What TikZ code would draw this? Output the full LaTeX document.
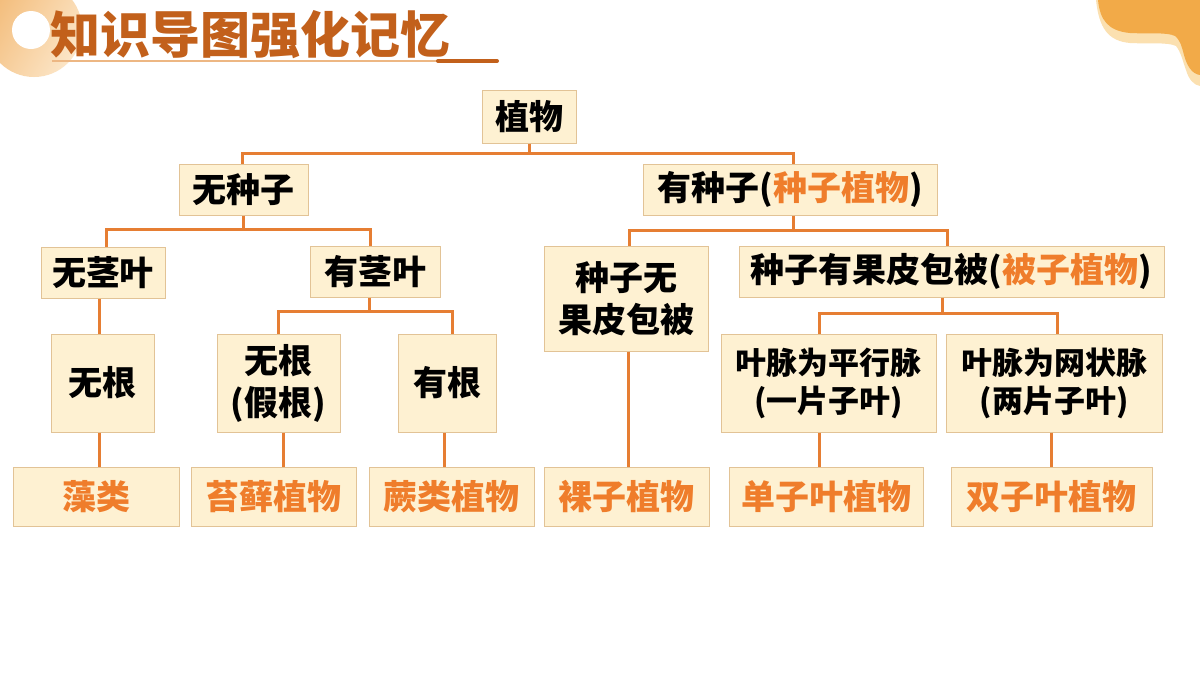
\documentclass[tikz,border=0pt]{standalone}
\usepackage{fontspec}
\setmainfont{Noto Sans CJK SC}
\definecolor{boxfill}{HTML}{FEF1D2}
\definecolor{boxline}{HTML}{E2C396}
\definecolor{conn}{HTML}{E67E33}
\definecolor{orn}{HTML}{EF7D2B}
\definecolor{titlec}{HTML}{C2601B}
\definecolor{titleln}{HTML}{EDB783}
\definecolor{wave}{HTML}{F2AA48}
\definecolor{wavelt}{HTML}{FBE0B0}
\definecolor{ringd}{HTML}{F3BC7A}
\definecolor{ringl}{HTML}{FCE6C8}
\begin{document}
\begin{tikzpicture}[x=1pt,y=-1pt,
  box/.style={draw=boxline, fill=boxfill, line width=1pt, inner sep=0pt, align=center, text=black,
    font=\bfseries\fontsize{34}{42}\selectfont},
  smallbox/.style={box, font=\bfseries\fontsize{31}{38}\selectfont},
  leaf/.style={box, text=orn},
  link/.style={draw=conn, line width=3pt},
  ]
\useasboundingbox (0,0) rectangle (1200,675);
\clip (0,0) rectangle (1200,675);
\fill[white] (0,0) rectangle (1200,675);

% decorations
\shade[left color=ringd, right color=ringl, shading angle=60] (34,29) circle (48);
\fill[white] (31,30) circle (19);
\fill[wavelt] (1096,0) .. controls (1099,28) and (1108,41) .. (1130,43)
  .. controls (1150,44) and (1168,42) .. (1176,46)
  .. controls (1181,52) and (1183,62) .. (1186,70)
  .. controls (1189,80) and (1194,85) .. (1200,86) -- (1200,0) -- cycle;
\fill[wave] (1098,0) .. controls (1100,20) and (1108,31) .. (1130,33)
  .. controls (1150,34) and (1167,32) .. (1175,36)
  .. controls (1181,41) and (1182,48) .. (1184,55)
  .. controls (1187,66) and (1192,74) .. (1200,75) -- (1200,0) -- cycle;

% title
\node[anchor=west, inner sep=0pt, text=titlec, font=\bfseries\fontsize{50}{52}\selectfont] (title) at (50,35) {知识导图强化记忆};
\coordinate (ul1) at (52,61);
\coordinate (ul2) at (438,61);
\coordinate (ul3) at (497,61);
\draw[titleln, line width=1.5pt] (ul1) -- (ul2);
\draw[titlec, line width=4pt, line cap=round] (ul2) -- (ul3);

% level 0-1
\node[box, minimum width=94, minimum height=53] (zw) at (529,116.5) {植物};
\node[box, minimum width=129, minimum height=51] (wzz) at (243.5,189.5) {无种子};
\node[box, minimum width=294, minimum height=51] (yzz) at (790,189.5) {有种子(\textcolor{orn}{种子植物})};
% level 2
\node[box, minimum width=124, minimum height=51] (wjy) at (103,272.5) {无茎叶};
\node[box, minimum width=130, minimum height=51] (yjy) at (375,271.5) {有茎叶};
\node[box, minimum width=164, minimum height=105] (zzw) at (626,298.5) {种子无\\果皮包被};
\node[box, minimum width=425, minimum height=51] (zzy) at (951.5,271.5) {种子有果皮包被(\textcolor{orn}{被子植物})};
% level 3
\node[box, minimum width=103, minimum height=98] (wg1) at (102.5,383) {无根};
\node[box, minimum width=123, minimum height=98] (wgj) at (278.5,383) {无根\\(假根)};
\node[box, minimum width=98, minimum height=98] (yg) at (447,383) {有根};
\node[smallbox, minimum width=215, minimum height=98] (pxm) at (828.5,383) {叶脉为平行脉\\(一片子叶)};
\node[smallbox, minimum width=216, minimum height=98] (wzm) at (1054,383) {叶脉为网状脉\\(两片子叶)};
% level 4
\node[leaf, minimum width=166, minimum height=59] (zl) at (96,496.5) {藻类};
\node[leaf, minimum width=165, minimum height=59] (tx) at (273.5,496.5) {苔藓植物};
\node[leaf, minimum width=165, minimum height=59] (jl) at (451.5,496.5) {蕨类植物};
\node[leaf, minimum width=165, minimum height=59] (lz) at (626.5,496.5) {裸子植物};
\node[leaf, minimum width=194, minimum height=59] (dzy) at (826,496.5) {单子叶植物};
\node[leaf, minimum width=201, minimum height=59] (szy) at (1051.5,496.5) {双子叶植物};

% connector positions
\coordinate (b1) at (529,153);
\coordinate (x1) at (242,0);
\coordinate (x2) at (793,0);
\coordinate (b2) at (243.5,229);
\coordinate (x3) at (106,0);
\coordinate (x4) at (370,0);
\coordinate (b3) at (793,230);
\coordinate (x5) at (629,0);
\coordinate (x6) at (947,0);
\coordinate (b4) at (369,311);
\coordinate (x7) at (278,0);
\coordinate (x8) at (452,0);
\coordinate (b5) at (942,313);
\coordinate (x9) at (819,0);
\coordinate (x10) at (1057,0);
\coordinate (v1) at (99,0);
\coordinate (v2) at (283,0);
\coordinate (v3) at (444,0);
\coordinate (v4) at (628,0);
\coordinate (v5) at (819,0);
\coordinate (v6) at (1051,0);

% connectors
\draw[link] (zw.south) -- (b1);
\draw[link] (wzz.north -| x1) |- (b1) -| (yzz.north -| x2);
\draw[link] (wzz.south) -- (b2);
\draw[link] (wjy.north -| x3) |- (b2) -| (yjy.north -| x4);
\draw[link] (yzz.south -| b3) -- (b3);
\draw[link] (zzw.north -| x5) |- (b3) -| (zzy.north -| x6);
\draw[link] (yjy.south -| b4) -- (b4);
\draw[link] (wgj.north -| x7) |- (b4) -| (yg.north -| x8);
\draw[link] (zzy.south -| b5) -- (b5);
\draw[link] (pxm.north -| x9) |- (b5) -| (wzm.north -| x10);
\draw[link] (wjy.south -| v1) -- (wg1.north -| v1);
\draw[link] (wg1.south -| v1) -- (zl.north -| v1);
\draw[link] (wgj.south -| v2) -- (tx.north -| v2);
\draw[link] (yg.south -| v3) -- (jl.north -| v3);
\draw[link] (zzw.south -| v4) -- (lz.north -| v4);
\draw[link] (pxm.south -| v5) -- (dzy.north -| v5);
\draw[link] (wzm.south -| v6) -- (szy.north -| v6);
\end{tikzpicture}
\end{document}
